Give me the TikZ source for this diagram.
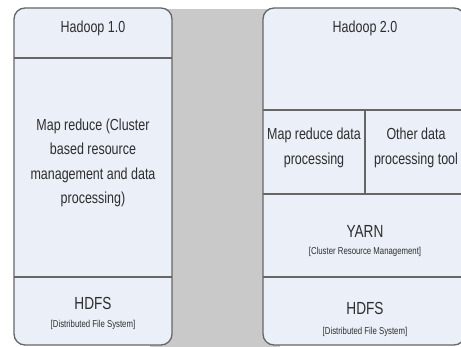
\documentclass[tikz,border=0pt]{standalone}
\usepackage{fontspec}
\setmainfont{Liberation Sans}[FakeStretch=0.78]
\begin{document}
\begin{tikzpicture}[x=1pt,y=-1pt,
  layer/.style={draw=boxline, line width=1.3pt, fill=boxfill, rounded corners=11pt},
  divider/.style={draw=boxline, line width=1.3pt},
  bigtext/.style={text=ink, align=center, font=\fontsize{16}{24.5}\selectfont, inner sep=0pt},
  subtext/.style={text=ink, align=center, font=\fontsize{10}{12}\selectfont, inner sep=0pt},
  headtext/.style={text=ink, align=center, font=\fontsize{17.5}{20}\selectfont, inner sep=0pt}]
\definecolor{boxfill}{HTML}{EAEFF8}
\definecolor{boxline}{HTML}{666666}
\definecolor{backgray}{HTML}{C9C9C9}
\definecolor{ink}{HTML}{2E2E2E}

\useasboundingbox (0,0) rectangle (461,347);
\fill[white] (0,0) rectangle (461,347);
% grey backdrop between the two stacks
\fill[backgray] (150,9) rectangle (280,347);

% Hadoop 1.0 stack
\draw[layer] (14,8) rectangle (172,345);
\draw[divider] (14,58) -- (172,58);
\draw[divider] (14,277) -- (172,277);
\node[bigtext] (h1) at (93,28) {Hadoop 1.0};
\node[bigtext] (mr1) at (93,163) {Map reduce (Cluster\\based resource\\management and data\\processing)};
\node[headtext] (hdfs1) at (93,303) {HDFS};
\node[subtext] (dfs1) at (93,325) {[Distributed File System]};

% Hadoop 2.0 stack
\draw[layer] (263,8) rectangle (465,345);
\draw[divider] (263,110) -- (465,110);
\draw[divider] (365,110) -- (365,194);
\draw[divider] (263,194) -- (465,194);
\draw[divider] (263,277) -- (465,277);
\node[bigtext] (h2) at (365,28) {Hadoop 2.0};
\node[bigtext] (mrd) at (314,148) {Map reduce data\\processing};
\node[bigtext] (other) at (416,148) {Other data\\processing tool};
\node[headtext] (yarn) at (365,231) {YARN};
\node[subtext] (crm) at (365,252) {[Cluster Resource Management]};
\node[headtext] (hdfs2) at (365,308) {HDFS};
\node[subtext] (dfs2) at (365,332) {[Distributed File System]};
\end{tikzpicture}
\end{document}
